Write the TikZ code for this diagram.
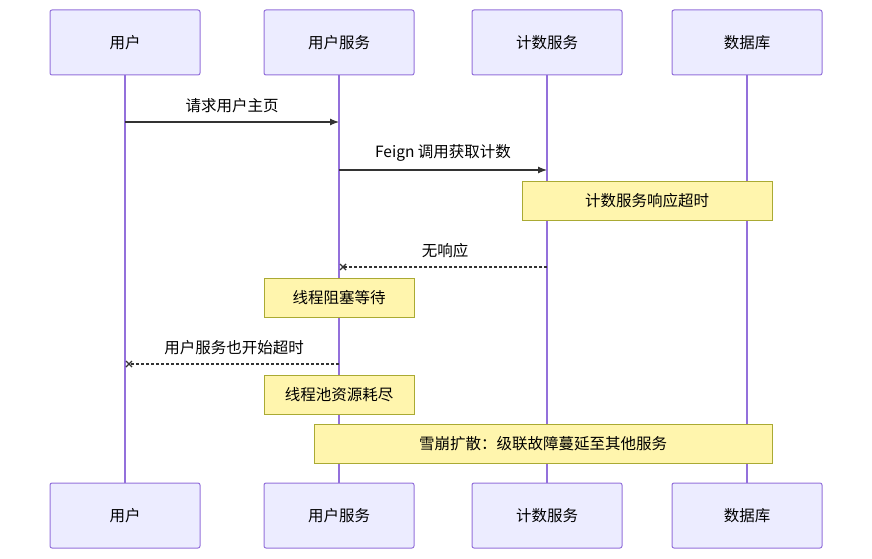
\documentclass[tikz,border=0pt]{standalone}
\usepackage{fontspec}
\setmainfont{Noto Sans CJK SC}
\usetikzlibrary{arrows.meta}
\definecolor{actorfill}{HTML}{ECECFF}
\definecolor{actorline}{HTML}{9370DB}
\definecolor{notefill}{HTML}{FFF5AD}
\definecolor{noteline}{HTML}{AAAA33}
\definecolor{msgline}{HTML}{333333}

\begin{document}
\begin{tikzpicture}[x = 1pt, y = -1pt, font = \fontsize{15.5}{18}\selectfont,
    actor/.style = {draw = actorline, fill = actorfill, line width = 1pt, rounded corners = 2pt, minimum width = 150pt, minimum height = 65pt},
    note/.style = {draw = noteline, fill = notefill, line width = 1pt, minimum height = 39pt},
    life/.style = {draw = actorline, line width = 1.4pt},
    msg/.style = {draw = msgline, line width = 1.2pt, -{Latex[length = 9pt, width = 7pt]}},
    reply/.style = {draw = msgline, line width = 1.2pt, dash pattern = on 3pt off 2pt},
    cross/.style = {draw = msgline, line width = 1.4pt}]
        \useasboundingbox (0, 0) rectangle (872, 559);

        % Lifelines
        \foreach \x [count = \i] in {125, 339, 547, 747} {
            \coordinate (t\i) at (\x, 75);
            \coordinate (b\i) at (\x, 483);
            \draw [life] (t\i) -- (b\i);
        }

        % Actors
        \node [actor] (u1) at (125, 42.5) {用户};
        \node [actor] (s1) at (339, 42.5) {用户服务};
        \node [actor] (c1) at (547, 42.5) {计数服务};
        \node [actor] (d1) at (747, 42.5) {数据库};
        \node [actor] (u2) at (125, 515.5) {用户};
        \node [actor] (s2) at (339, 515.5) {用户服务};
        \node [actor] (c2) at (547, 515.5) {计数服务};
        \node [actor] (d2) at (747, 515.5) {数据库};

        % Messages
        \coordinate (m1a) at (125, 122);
        \coordinate (m1b) at (339, 122);
        \draw [msg] (m1a) -- (m1b) node [midway, above = 5pt] {请求用户主页};
        \coordinate (m2a) at (339, 170);
        \coordinate (m2b) at (547, 170);
        \draw [msg] (m2a) -- (m2b) node [midway, above = 5pt] {Feign 调用获取计数};
        \coordinate (m3a) at (547, 267);
        \coordinate (m3b) at (343, 267);
        \draw [reply] (m3a) -- (m3b) node [midway, above = 5pt] {无响应};
        \draw [cross] (m3b) ++(-3, -3) -- ++(6, 6) ++(-6, 0) -- ++(6, -6);
        \coordinate (m4a) at (339, 364);
        \coordinate (m4b) at (129, 364);
        \draw [reply] (m4a) -- (m4b) node [midway, above = 5pt] {用户服务也开始超时};
        \draw [cross] (m4b) ++(-3, -3) -- ++(6, 6) ++(-6, 0) -- ++(6, -6);

        % Notes
        \node [note, minimum width = 250pt] (n1) at (647, 200.5) {计数服务响应超时};
        \node [note, minimum width = 150pt] (n2) at (339, 297.5) {线程阻塞等待};
        \node [note, minimum width = 150pt] (n3) at (339, 394.5) {线程池资源耗尽};
        \node [note, minimum width = 458pt] (n4) at (543, 443.5) {雪崩扩散：级联故障蔓延至其他服务};
    \end{tikzpicture}
\end{document}
